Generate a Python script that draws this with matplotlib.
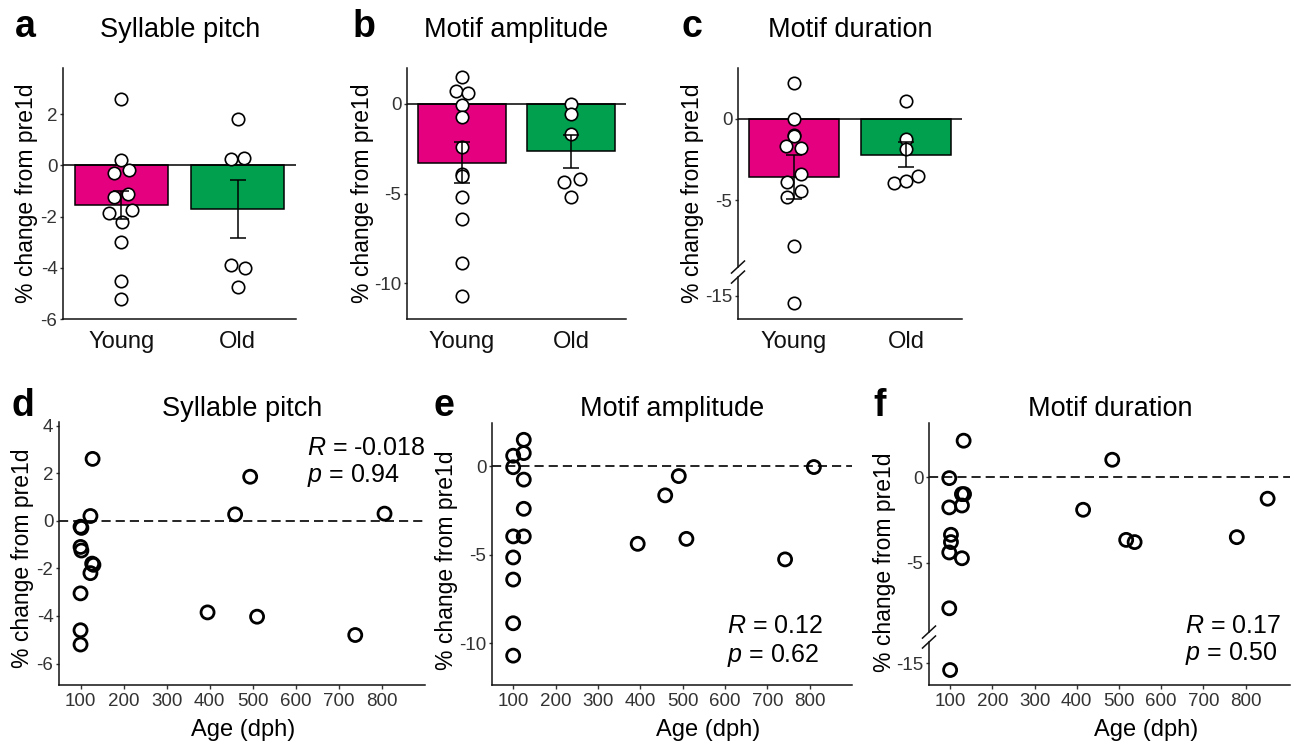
import matplotlib
matplotlib.use("Agg")
import matplotlib.pyplot as plt

plt.rcParams["font.family"] = ["Liberation Sans", "DejaVu Sans"]
plt.rcParams["mathtext.fontset"] = "custom"
plt.rcParams["mathtext.it"] = "Liberation Sans:italic"
plt.rcParams["mathtext.rm"] = "Liberation Sans"
plt.rcParams["axes.unicode_minus"] = False

W, H = 1293, 746
MAGENTA = "#E5007F"
GREEN = "#00A04F"
TICK_COLOR = "#333333"

GROUPS = ["Young", "Old"]

# --- bar panels (a-c): per-bird values, horizontal jitter, mean and SEM ---
PITCH_YOUNG = [2.6, 0.2, -0.3, -0.2, -1.1, -1.25, -1.85, -1.75, -2.2, -3.0, -4.5, -5.2]
PITCH_YOUNG_JIT = [0, 0, -0.065, 0.065, 0.057, -0.062, -0.105, 0.094, 0.01, 0, 0, 0]
PITCH_OLD = [1.8, 0.26, 0.29, -3.88, -4.0, -4.76]
PITCH_OLD_JIT = [0, -0.054, 0.051, -0.057, 0.06, 0]
PITCH_MEAN = [-1.56, -1.70]
PITCH_SEM = [0.55, 1.13]

AMP_YOUNG = [1.48, 0.74, 0.59, -0.04, -0.74, -2.4, -3.9, -4.0, -5.19, -6.43, -8.9, -10.74]
AMP_YOUNG_JIT = [0, -0.05, 0.055, 0, 0, 0, 0, 0, 0, 0, 0, 0]
AMP_OLD = [0.0, -0.55, -1.7, -4.35, -4.17, -5.22]
AMP_OLD_JIT = [0, 0, 0, -0.07, 0.076, 0]
AMP_MEAN = [-3.28, -2.65]
AMP_SEM = [1.14, 0.92]

DUR_YOUNG = [2.15, 0.0, -1.0, -1.05, -1.67, -1.8, -3.41, -3.92, -4.45, -4.8, -7.8, -15.47]
DUR_YOUNG_JIT = [0, 0, 0, 0, -0.069, 0.066, 0.066, -0.06, 0.06, -0.06, 0, 0]
DUR_OLD = [1.06, -1.27, -1.88, -3.94, -3.82, -3.53]
DUR_OLD_JIT = [0, 0, 0, -0.104, 0, 0.104]
DUR_MEAN = [-3.6, -2.22]
DUR_SEM = [1.36, 0.75]

# --- scatter panels (d-f): age (dph) vs % change ---
PITCH_AGE = [128, 123, 100, 102, 100, 102, 127, 130, 123, 100, 100, 100,
             395, 459, 494, 510, 738, 806]
PITCH_CHG = [2.6, 0.2, -0.25, -0.3, -1.1, -1.25, -1.8, -1.85, -2.2, -3.05, -4.6, -5.2,
             -3.85, 0.27, 1.85, -4.03, -4.8, 0.3]

AMP_AGE = [125, 100, 125, 100, 125, 125, 100, 125, 100, 100, 100, 100,
           394, 459, 491, 509, 742, 810]
AMP_CHG = [1.5, 0.6, 0.75, -0.05, -0.75, -2.4, -3.96, -3.96, -5.15, -6.4, -8.87, -10.7,
           -4.38, -1.64, -0.55, -4.1, -5.26, -0.04]

DUR_AGE = [132, 98, 128, 133, 128, 98, 102, 102, 98, 128, 98, 100,
           415, 484, 517, 537, 779, 852]
DUR_CHG = [2.16, -0.04, -0.98, -0.98, -1.65, -1.76, -3.37, -3.8, -4.41, -4.75, -7.69, -15.4,
           -1.9, 1.04, -3.67, -3.8, -3.51, -1.25]

AGE_TICKS = [100, 200, 300, 400, 500, 600, 700, 800]
STATS = {"d": ("-0.018", "0.94"), "e": ("0.12", "0.62"), "f": ("0.17", "0.50")}


def box(l, t, r, b):
    return [l / W, 1 - b / H, (r - l) / W, (b - t) / H]


def squash(vals, cut, shift):
    # values below the axis break are drawn shifted up
    return [v + shift if v < cut else v for v in vals]


def style_axes(ax):
    for side in ["top", "right"]:
        ax.spines[side].set_visible(False)
    for side in ["left", "bottom"]:
        ax.spines[side].set_linewidth(1.1)
        ax.spines[side].set_color("#111111")
    ax.tick_params(axis="y", length=2.5, width=1.0, color=TICK_COLOR,
                   labelcolor=TICK_COLOR, labelsize=13.5, pad=1.5)
    ax.set_facecolor("none")


def axis_break(ax, lo, hi, dx, dy):
    ax.spines["left"].set_visible(False)
    kw = dict(transform=ax.transAxes, color="#111111", lw=1.1, clip_on=False)
    ax.plot([0, 0], [hi, 1], **kw)
    ax.plot([0, 0], [0, lo], **kw)
    for yc in (lo, hi):
        ax.plot([-dx, dx], [yc - dy, yc + dy], **kw)


def bar_panel(ax, young, yjit, old, ojit, means, sems, shift=None):
    if shift is not None:
        young = squash(young, -10, shift)
        old = squash(old, -10, shift)
    ax.bar([0, 1], means, width=0.8, color=[MAGENTA, GREEN],
           edgecolor="black", linewidth=1.1, zorder=1)
    ax.axhline(0, color="black", lw=1.1, zorder=2)
    ax.scatter([0 + j for j in yjit], young, s=80, facecolor="white",
               edgecolor="black", linewidth=1.2, zorder=3)
    ax.scatter([1 + j for j in ojit], old, s=80, facecolor="white",
               edgecolor="black", linewidth=1.2, zorder=3)
    ax.errorbar([0, 1], means, yerr=sems, fmt="none", ecolor="black",
                elinewidth=1.1, capsize=5.5, capthick=1.1, zorder=4)
    ax.set_xlim(-0.5, 1.5)
    ax.set_xticks([0, 1])
    ax.set_xticklabels(GROUPS)
    ax.tick_params(axis="x", length=0, labelsize=17, pad=9, labelcolor="#111111")
    style_axes(ax)


def scatter_panel(ax, age, chg, shift=None):
    if shift is not None:
        chg = squash(chg, -10, shift)
    ax.axhline(0, color="black", lw=1.2, dashes=(5.5, 3), zorder=1)
    ax.scatter(age, chg, s=88, facecolor="none", edgecolor="black",
               linewidth=2.0, zorder=3)
    ax.set_xlim(50, 900)
    ax.set_xticks(AGE_TICKS)
    ax.tick_params(axis="x", length=3, width=1.0, color=TICK_COLOR,
                   labelcolor=TICK_COLOR, labelsize=13.5, pad=3)
    style_axes(ax)


def stats_text(ax, key, x, y1, y2):
    r, p = STATS[key]
    ax.text(x, y1, "$\\it{R}$ = " + r, transform=ax.transAxes, fontsize=18,
            ha="left", va="baseline")
    ax.text(x, y2, "$\\it{p}$ = " + p, transform=ax.transAxes, fontsize=18,
            ha="left", va="baseline")


fig = plt.figure(figsize=(W / 100, H / 100), dpi=100)

# top row
ax_a = fig.add_axes(box(63, 68, 296, 319))
bar_panel(ax_a, PITCH_YOUNG, PITCH_YOUNG_JIT, PITCH_OLD, PITCH_OLD_JIT,
          PITCH_MEAN, PITCH_SEM)
ax_a.set_ylim(-6, 3.8)
ax_a.set_yticks([-6, -4, -2, 0, 2])

ax_b = fig.add_axes(box(407, 68, 626, 319))
bar_panel(ax_b, AMP_YOUNG, AMP_YOUNG_JIT, AMP_OLD, AMP_OLD_JIT, AMP_MEAN, AMP_SEM)
ax_b.set_ylim(-12, 2)
ax_b.set_yticks([-10, -5, 0])

C_SHIFT = 4.14
ax_c = fig.add_axes(box(738, 68, 962, 319))
bar_panel(ax_c, DUR_YOUNG, DUR_YOUNG_JIT, DUR_OLD, DUR_OLD_JIT, DUR_MEAN, DUR_SEM,
          shift=C_SHIFT)
ax_c.set_ylim(-12.3, 3.1)
ax_c.set_yticks([-15 + C_SHIFT, -5, 0])
ax_c.set_yticklabels(["-15", "-5", "0"])
axis_break(ax_c, 0.167, 0.207, 0.029, 0.024)

# bottom row
ax_d = fig.add_axes(box(59, 422, 425, 685))
scatter_panel(ax_d, PITCH_AGE, PITCH_CHG)
ax_d.set_ylim(-6.9, 4.15)
ax_d.set_yticks([-6, -4, -2, 0, 2, 4])
stats_text(ax_d, "d", 0.678, 0.875, 0.772)

ax_e = fig.add_axes(box(492, 423, 852, 685))
scatter_panel(ax_e, AMP_AGE, AMP_CHG)
ax_e.set_ylim(-12.36, 2.45)
ax_e.set_yticks([-10, -5, 0])
stats_text(ax_e, "e", 0.653, 0.198, 0.088)

F_SHIFT = 4.08
ax_f = fig.add_axes(box(929, 423, 1290, 685))
scatter_panel(ax_f, DUR_AGE, DUR_CHG, shift=F_SHIFT)
ax_f.set_xlim(50, 905)
ax_f.set_ylim(-12.2, 3.2)
ax_f.set_yticks([-15 + F_SHIFT, -5, 0])
ax_f.set_yticklabels(["-15", "-5", "0"])
axis_break(ax_f, 0.164, 0.202, 0.018, 0.023)
stats_text(ax_f, "f", 0.709, 0.198, 0.095)

# titles, panel letters and axis labels (pixel positions from the layout)
titles = [("a", 25, 180, 37, "Syllable pitch"), ("b", 364, 516, 37, "Motif amplitude"),
          ("c", 692, 850, 37, "Motif duration"), ("d", 23, 242, 416, "Syllable pitch"),
          ("e", 444, 672, 416, "Motif amplitude"), ("f", 880, 1110, 416, "Motif duration")]
for letter, lx, tx, base, title in titles:
    fig.text(lx / W, 1 - base / H, letter, fontsize=27, fontweight="bold",
             ha="center", va="baseline")
    fig.text(tx / W, 1 - base / H, title, fontsize=19.5, ha="center", va="baseline")

ylab = "% change from pre1d"
for x, y in [(27, 193), (362, 193), (693, 193), (23, 558), (446, 560), (885, 562)]:
    fig.text(x / W, 1 - y / H, ylab, fontsize=16.5, rotation=90,
             ha="center", va="center")

for x in [243, 708, 1146]:
    fig.text(x / W, 1 - 730 / H, "Age (dph)", fontsize=17, ha="center", va="center")

fig.savefig("out.png", dpi=100, facecolor="white")
